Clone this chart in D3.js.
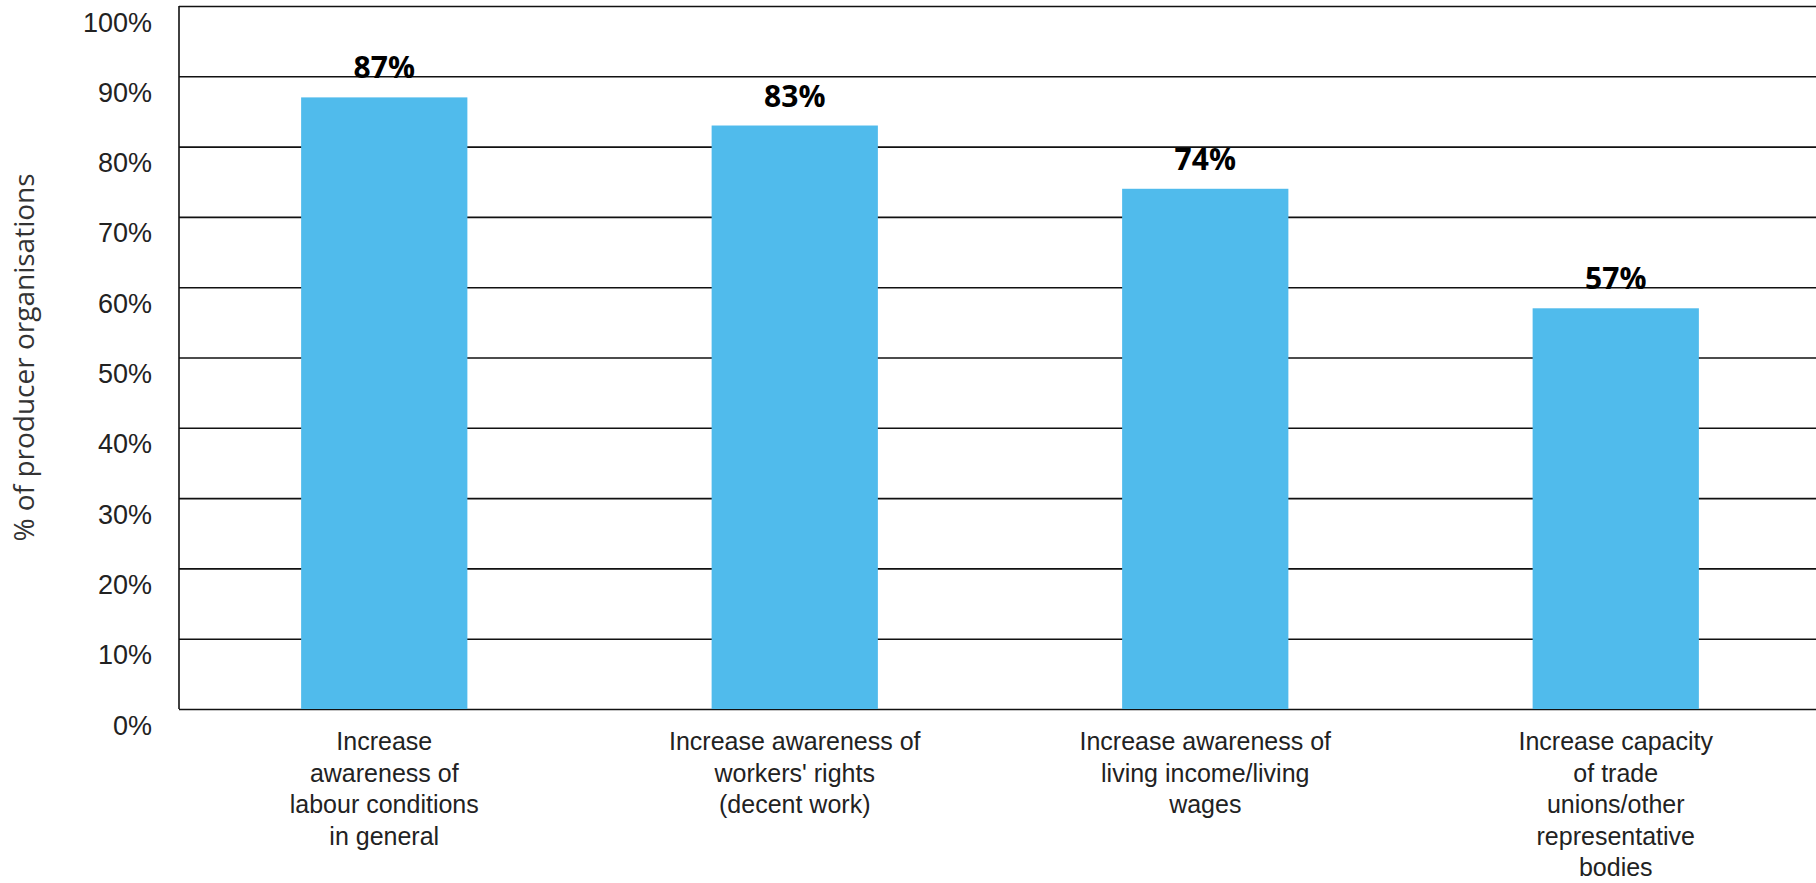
<!DOCTYPE html>
<html>
<head>
<meta charset="utf-8">
<script src="https://cdn.jsdelivr.net/npm/d3@7"></script>
<style>
  html, body { margin: 0; padding: 0; background: #fff; }
  svg { display: block; font-family: "Open Sans", "Noto Sans", sans-serif; }
  .tick text { fill: #222; }
</style>
</head>
<body>
<svg id="chart"></svg>
<script>
// data
const categories = ["labour", "rights", "income", "unions"];
const categoryLines = [
  ["Increase", "awareness of", "labour conditions", "in general"],
  ["Increase awareness of", "workers' rights", "(decent work)"],
  ["Increase awareness of", "living income/living", "wages"],
  ["Increase capacity", "of trade", "unions/other", "representative", "bodies"]
];
const values = [87, 83, 74, 57];
const yTicks = [0, 10, 20, 30, 40, 50, 60, 70, 80, 90, 100];
const yTitle = "% of producer organisations";

// layout
const width = 1816, height = 883;
const margin = { top: 6, right: 0, bottom: 174, left: 179 };
const plotW = width - margin.left - margin.right;
const plotH = height - margin.top - margin.bottom;

const svg = d3.select("#chart")
    .attr("width", width)
    .attr("height", height);

const g = svg.append("g")
    .attr("transform", `translate(${margin.left},${margin.top})`);

const x = d3.scaleBand()
    .domain(categories)
    .range([0, plotW + 5])
    .paddingInner(0.595)
    .paddingOuter(0.2975);

const y = d3.scaleLinear()
    .domain([0, 100])
    .range([plotH, 0]);

// gridlines + tick labels
const yAxis = g.append("g")
    .call(d3.axisLeft(y)
        .tickValues(yTicks)
        .tickSize(-plotW)
        .tickPadding(27)
        .tickFormat(d => d + "%"));

yAxis.select(".domain").remove();
yAxis.selectAll(".tick line")
    .attr("stroke", "#111")
    .attr("stroke-width", 1.6);
yAxis.selectAll(".tick text")
    .attr("dy", 25)
    .style("font-size", "27px");

// left border
g.append("line")
    .attr("x1", 0).attr("x2", 0)
    .attr("y1", y(100)).attr("y2", y(0))
    .attr("stroke", "#111")
    .attr("stroke-width", 1.6);

// bars
g.selectAll(".bar")
    .data(values)
    .enter().append("rect")
    .attr("class", "bar")
    .attr("x", (d, i) => x(categories[i]))
    .attr("y", d => y(d))
    .attr("width", x.bandwidth())
    .attr("height", d => y(0) - y(d))
    .attr("fill", "#50bbec");

// value labels
g.selectAll(".val")
    .data(values)
    .enter().append("text")
    .attr("class", "val")
    .attr("x", (d, i) => x(categories[i]) + x.bandwidth() / 2)
    .attr("y", d => y(d) - 19)
    .attr("text-anchor", "middle")
    .style("font-size", "30px")
    .style("font-weight", "700")
    .attr("fill", "#000")
    .text(d => d + "%");

// category labels
const xAxis = g.append("g")
    .attr("transform", `translate(0,${plotH})`)
    .call(d3.axisBottom(x).tickSize(0).tickFormat(""));
xAxis.select(".domain").remove();

xAxis.selectAll(".tick").each(function(d, i) {
  const t = d3.select(this).append("text")
      .attr("text-anchor", "middle")
      .attr("fill", "#222")
      .style("font-size", "25px");
  categoryLines[i].forEach((line, j) => {
    t.append("tspan")
        .attr("x", 0)
        .attr("y", 41 + j * 31.5)
        .text(line);
  });
});

// y axis title
svg.append("text")
    .attr("transform", `translate(34,${margin.top + plotH / 2}) rotate(-90)`)
    .attr("text-anchor", "middle")
    .attr("fill", "#333")
    .style("font-size", "28px")
    .text(yTitle);
</script>
</body>
</html>
